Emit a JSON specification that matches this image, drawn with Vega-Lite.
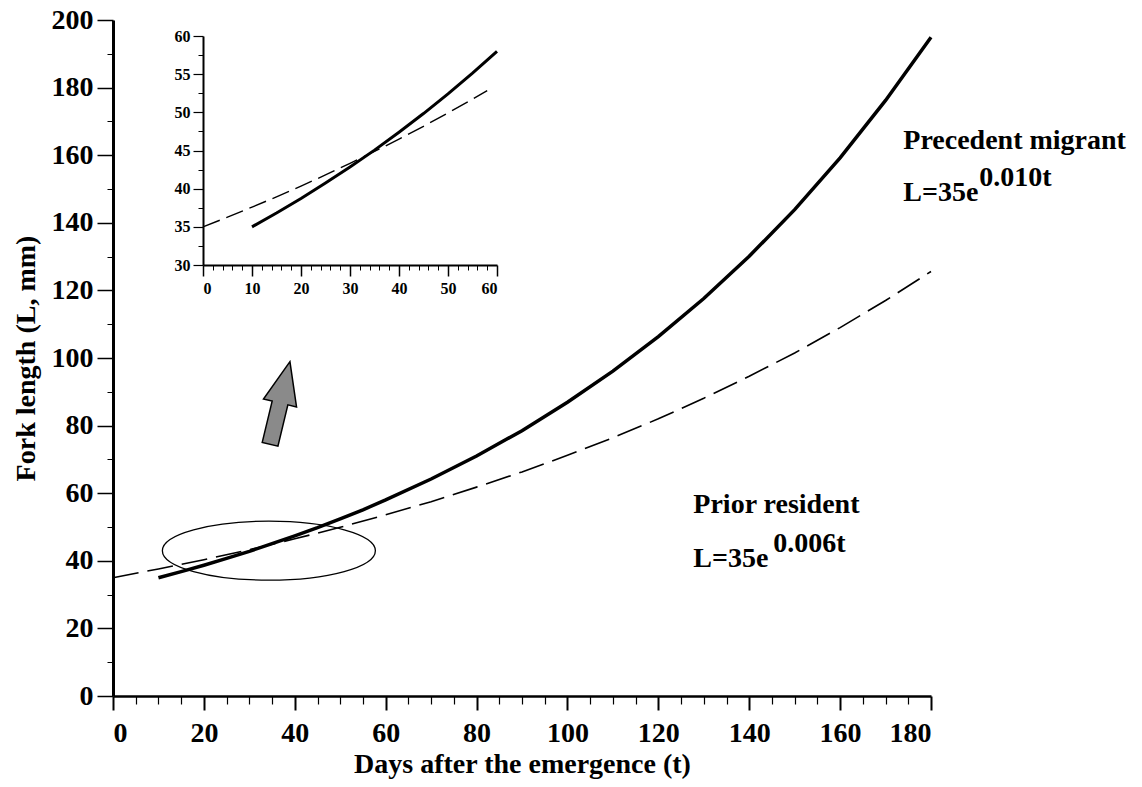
{
  "$schema": "https://vega.github.io/schema/vega-lite/v6.json",
  "width": 818,
  "height": 676,
  "autosize": {"type": "none"},
  "padding": {"left": 113, "top": 20, "right": 211, "bottom": 91},
  "background": "white",
  "config": {
    "view": {"stroke": null},
    "axis": {
      "grid": false,
      "domainColor": "black",
      "tickColor": "black",
      "labelColor": "black",
      "titleColor": "black",
      "labelFont": "Liberation Serif",
      "titleFont": "Liberation Serif",
      "labelFontWeight": "bold",
      "titleFontWeight": "bold"
    },
    "text": {"font": "Liberation Serif", "fontWeight": "bold", "color": "black"}
  },
  "datasets": {
    "migrant": [
      {"t": 10, "L": 35.0}, {"t": 15, "L": 36.8}, {"t": 20, "L": 38.7}, {"t": 25, "L": 40.7},
      {"t": 30, "L": 42.8}, {"t": 35, "L": 45.1}, {"t": 40, "L": 47.4}, {"t": 45, "L": 49.8},
      {"t": 50, "L": 52.4}, {"t": 55, "L": 55.1}, {"t": 60, "L": 58.0}, {"t": 70, "L": 64.2},
      {"t": 80, "L": 71.0}, {"t": 90, "L": 78.5}, {"t": 100, "L": 86.9}, {"t": 110, "L": 96.1},
      {"t": 120, "L": 106.3}, {"t": 130, "L": 117.6}, {"t": 140, "L": 130.1}, {"t": 150, "L": 143.9},
      {"t": 160, "L": 159.2}, {"t": 170, "L": 176.2}, {"t": 180, "L": 194.9}
    ],
    "resident": [
      {"t": 0, "L": 35.0}, {"t": 10, "L": 37.6}, {"t": 20, "L": 40.3}, {"t": 30, "L": 43.3},
      {"t": 40, "L": 46.5}, {"t": 50, "L": 49.9}, {"t": 60, "L": 53.6}, {"t": 70, "L": 57.5},
      {"t": 80, "L": 61.8}, {"t": 90, "L": 66.3}, {"t": 100, "L": 71.2}, {"t": 110, "L": 76.4},
      {"t": 120, "L": 82.0}, {"t": 130, "L": 88.1}, {"t": 140, "L": 94.6}, {"t": 150, "L": 101.5},
      {"t": 160, "L": 109.0}, {"t": 170, "L": 117.0}, {"t": 180, "L": 125.6}
    ],
    "migrant_inset": [
      {"t": 10, "L": 35.0}, {"t": 15, "L": 36.81}, {"t": 20, "L": 38.72}, {"t": 25, "L": 40.73},
      {"t": 30, "L": 42.84}, {"t": 35, "L": 45.05}, {"t": 40, "L": 47.39}, {"t": 45, "L": 49.84},
      {"t": 50, "L": 52.42}, {"t": 55, "L": 55.14}, {"t": 60, "L": 58.0}
    ],
    "resident_inset": [
      {"t": 0, "L": 35.0}, {"t": 5, "L": 36.26}, {"t": 10, "L": 37.58}, {"t": 15, "L": 38.93},
      {"t": 20, "L": 40.34}, {"t": 25, "L": 41.8}, {"t": 30, "L": 43.31}, {"t": 35, "L": 44.87},
      {"t": 40, "L": 46.49}, {"t": 45, "L": 48.17}, {"t": 50, "L": 49.92}, {"t": 55, "L": 51.72},
      {"t": 58, "L": 52.83}
    ],
    "ellipse": [{"x": 34.3, "y": 43.0}],
    "arrow": [{"x": 36.75, "y": 86.7}],
    "labels": [
      {"x": 173.9, "y": 161.8, "label": "Precedent migrant"},
      {"x": 173.9, "y": 146.5, "label": "L=35e"},
      {"x": 190.6, "y": 150.9, "label": "0.010t"},
      {"x": 127.7, "y": 54.1, "label": "Prior resident"},
      {"x": 127.7, "y": 38.1, "label": "L=35e"},
      {"x": 145.3, "y": 42.7, "label": "0.006t"}
    ]
  },
  "layer": [
    {
      "layer": [
        {
          "data": {"name": "migrant"},
          "mark": {"type": "line", "color": "black", "strokeWidth": 3.5},
          "encoding": {
            "x": {
              "field": "t", "type": "quantitative",
              "scale": {"domain": [0, 180], "nice": false, "zero": false},
              "axis": {
                "orient": "bottom",
                "values": [0, 20, 40, 60, 80, 100, 120, 140, 160, 180],
                "title": "Days after the emergence (t)",
                "labelFontSize": 28, "titleFontSize": 28,
                "tickSize": 14, "tickWidth": 2, "domainWidth": 2.5,
                "labelPadding": 9, "titlePadding": 3
              }
            },
            "y": {
              "field": "L", "type": "quantitative",
              "scale": {"domain": [0, 200], "nice": false, "zero": false},
              "axis": {
                "orient": "left",
                "values": [0, 20, 40, 60, 80, 100, 120, 140, 160, 180, 200],
                "title": "Fork length (L, mm)",
                "labelFontSize": 28, "titleFontSize": 28,
                "tickSize": 16, "tickWidth": 1.5, "domainWidth": 3,
                "labelPadding": 4, "titlePadding": 11
              }
            }
          }
        },
        {
          "data": {"name": "resident"},
          "mark": {"type": "line", "color": "black", "strokeWidth": 1.6, "strokeDash": [26, 9]},
          "encoding": {
            "x": {
              "field": "t", "type": "quantitative",
              "axis": {
                "orient": "bottom",
                "values": [5, 10, 15, 25, 30, 35, 45, 50, 55, 65, 70, 75, 85, 90, 95, 105, 110, 115, 125, 130, 135, 145, 150, 155, 165, 170, 175],
                "labels": false, "domain": false, "title": null,
                "tickSize": 8, "tickWidth": 1.2
              }
            },
            "y": {
              "field": "L", "type": "quantitative",
              "axis": {
                "orient": "left",
                "values": [10, 30, 50, 70, 90, 110, 130, 150, 170, 190],
                "labels": false, "domain": false, "title": null,
                "tickSize": 6, "tickWidth": 1
              }
            }
          }
        },
        {
          "data": {"name": "ellipse"},
          "mark": {
            "type": "point",
            "shape": "M -1 0 C -1 -0.153 -0.5523 -0.277 0 -0.277 C 0.5523 -0.277 1 -0.153 1 0 C 1 0.153 0.5523 0.277 0 0.277 C -0.5523 0.277 -1 0.153 -1 0 Z",
            "filled": false, "color": "black", "strokeWidth": 1.3,
            "size": 45369, "opacity": 1
          },
          "encoding": {
            "x": {"field": "x", "type": "quantitative", "axis": null},
            "y": {"field": "y", "type": "quantitative", "axis": null}
          }
        },
        {
          "data": {"name": "arrow"},
          "mark": {
            "type": "point",
            "shape": "M 0 -1 L 0.4 0 L 0.19 0 L 0.19 1 L -0.19 1 L -0.19 0 L -0.4 0 Z",
            "filled": true, "fill": "#8a8a8a", "stroke": "black", "strokeWidth": 1.5,
            "size": 7225, "angle": 13.5, "opacity": 1, "fillOpacity": 1, "strokeOpacity": 1
          },
          "encoding": {
            "x": {"field": "x", "type": "quantitative", "axis": null},
            "y": {"field": "y", "type": "quantitative", "axis": null}
          }
        },
        {
          "data": {"name": "labels"},
          "mark": {"type": "text", "align": "left", "baseline": "alphabetic", "fontSize": 28},
          "encoding": {
            "x": {"field": "x", "type": "quantitative", "axis": null},
            "y": {"field": "y", "type": "quantitative", "axis": null},
            "text": {"field": "label"}
          }
        }
      ],
      "resolve": {"axis": {"x": "independent", "y": "independent"}}
    },
    {
      "layer": [
        {
          "data": {"name": "migrant_inset"},
          "mark": {"type": "line", "color": "black", "strokeWidth": 3},
          "encoding": {
            "x": {
              "field": "t", "type": "quantitative",
              "scale": {"domain": [0, 60], "range": [90, 384], "nice": false, "zero": false},
              "axis": {
                "orient": "bottom", "offset": -431,
                "values": [0, 10, 20, 30, 40, 50, 60],
                "title": null, "labelFontSize": 16,
                "tickSize": 11, "tickWidth": 1.5, "domainWidth": 2, "labelPadding": 4
              }
            },
            "y": {
              "field": "L", "type": "quantitative",
              "scale": {"domain": [30, 60], "range": [245, 16], "nice": false, "zero": false},
              "axis": {
                "orient": "left", "offset": -90,
                "values": [30, 35, 40, 45, 50, 55, 60],
                "title": null, "labelFontSize": 16,
                "tickSize": 10, "tickWidth": 1.2, "domainWidth": 2, "labelPadding": 3
              }
            }
          }
        },
        {
          "data": {"name": "resident_inset"},
          "mark": {"type": "line", "color": "black", "strokeWidth": 1.4, "strokeDash": [18, 7]},
          "encoding": {
            "x": {
              "field": "t", "type": "quantitative",
              "axis": {
                "orient": "bottom", "offset": -431,
                "values": [2, 4, 6, 8, 12, 14, 16, 18, 22, 24, 26, 28, 32, 34, 36, 38, 42, 44, 46, 48, 52, 54, 56, 58],
                "labels": false, "domain": false, "title": null,
                "tickSize": 5, "tickWidth": 1
              }
            },
            "y": {
              "field": "L", "type": "quantitative",
              "axis": {
                "orient": "left", "offset": -90,
                "values": [32.5, 37.5, 42.5, 47.5, 52.5, 57.5],
                "labels": false, "domain": false, "title": null,
                "tickSize": 5, "tickWidth": 1
              }
            }
          }
        }
      ],
      "resolve": {"axis": {"x": "independent", "y": "independent"}}
    }
  ],
  "resolve": {
    "scale": {"x": "independent", "y": "independent"},
    "axis": {"x": "independent", "y": "independent"}
  }
}
